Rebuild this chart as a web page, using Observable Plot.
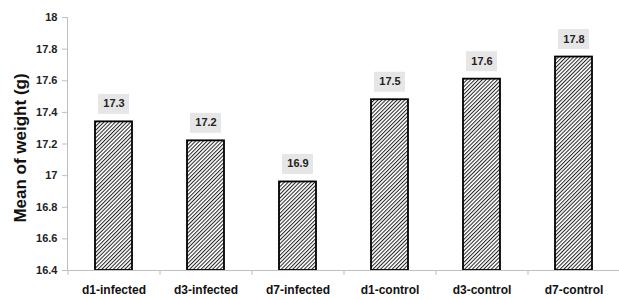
<!DOCTYPE html>
<html><head><meta charset="utf-8">
<script src="https://cdn.jsdelivr.net/npm/d3@7"></script>
<script src="https://cdn.jsdelivr.net/npm/@observablehq/plot@0.6"></script>
<style>body{margin:0;background:#fff}</style>
</head><body><div id="chart"></div>
<script>
const groups = ["d1-infected", "d3-infected", "d7-infected", "d1-control", "d3-control", "d7-control"];
const weights = [17.34, 17.22, 16.96, 17.48, 17.61, 17.75];
const valueLabels = ["17.3", "17.2", "16.9", "17.5", "17.6", "17.8"];
const yTicks = [16.4, 16.6, 16.8, 17, 17.2, 17.4, 17.6, 17.8, 18];
const yTickLabels = ["16.4", "16.6", "16.8", "17", "17.2", "17.4", "17.6", "17.8", "18"];
const yTitle = "Mean of weight (g)";

const data = groups.map((g, i) => ({group: g, weight: weights[i], label: valueLabels[i]}));

const font = "'Liberation Sans', Arial, sans-serif";
const plot = Plot.plot({
  width: 619, height: 300,
  marginLeft: 67, marginRight: 0, marginTop: 17, marginBottom: 30,
  style: {fontFamily: font, background: "white", overflow: "visible"},
  x: {domain: groups, paddingInner: 0.6, paddingOuter: 0.3, label: null},
  y: {domain: [16.4, 18], label: null},
  marks: [
    Plot.barY(data, {x: "group", y1: 16.4, y2: "weight", fill: "url(#hatch)", stroke: "black", strokeWidth: 1.8}),
    Plot.tickY(data, {x: "group", y: "weight", stroke: "#e7e6e6", strokeWidth: 20, dy: -18, insetLeft: 3, insetRight: 3}),
    Plot.text(data, {x: "group", y: "weight", text: "label", dy: -18, fontWeight: "bold", fontSize: 11, fill: "#222"}),
    Plot.frame({anchor: "left", stroke: "#bfbfbf"}),
    Plot.frame({anchor: "bottom", stroke: "#bfbfbf"}),
    Plot.axisY({ticks: yTicks, tickFormat: d => yTickLabels[yTicks.indexOf(d)], tickSize: 5, tickPadding: 5,
      stroke: "#bfbfbf", fill: "#222", fontWeight: "bold", fontSize: 11, label: null}),
    Plot.axisX({tickSize: 0, tickPadding: 15, fill: "#111", fontWeight: "bold", fontSize: 12, label: null}),
    Plot.axisX({text: null, tickSize: 5, dx: -46, stroke: "#bfbfbf", label: null}),
    Plot.text([yTitle], {frameAnchor: "left", textAnchor: "middle", rotate: -90, dx: -47, dy: 4, fontSize: 17, fontWeight: "bold", fill: "#111"})
  ]
});

const ns = "http://www.w3.org/2000/svg";
const defs = document.createElementNS(ns, "defs");
defs.innerHTML = `<pattern id="hatch" patternUnits="userSpaceOnUse" width="2.7" height="10" patternTransform="rotate(45)">
  <rect width="2.7" height="10" fill="white"/>
  <rect width="1" height="10" fill="#222"/>
</pattern>`;
plot.insertBefore(defs, plot.firstChild);
document.getElementById("chart").appendChild(plot);
</script>
</body></html>
